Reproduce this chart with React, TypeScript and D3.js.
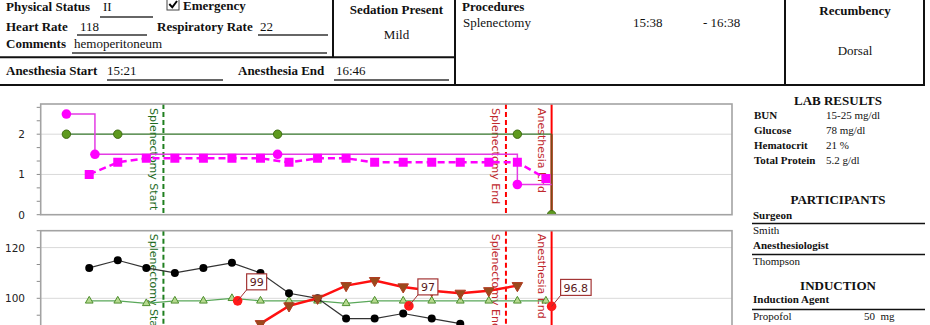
import React from "react";
import * as d3 from "d3";

const parseT = (s: string) => {
  const [h, m, sec] = s.split(":").map(Number);
  return new Date(2020, 0, 1, h, m, sec || 0);
};

// ---------- header form ----------
const physicalStatus = "II";
const heartRate = "118";
const respiratoryRate = "22";
const comments = "hemoperitoneum";
const sedation = "Mild";
const anesthesiaStart = "15:21";
const anesthesiaEnd = "16:46";
const procedureNames = ["Splenectomy"];
const procedureStarts = ["15:38"];
const procedureEnds = ["16:38"];
const recumbency = "Dorsal";

// ---------- right panel ----------
const labNames = ["BUN", "Glucose", "Hematocrit", "Total Protein"];
const labValues = ["15-25 mg/dl", "78 mg/dl", "21 %", "5.2 g/dl"];
const surgeons = ["Smith"];
const anesthesiologists = ["Thompson"];
const inductionAgents = ["Propofol"];
const inductionDoses = ["50  mg"];

// ---------- time axis ----------
const timeDomain = ["15:16:30", "17:17:36"];

// ---------- top chart ----------
const topTicks = [0, 1, 2];
const vaporTimes = ["15:21", "15:26", "15:58", "16:40"];
const vaporValues = [2.5, 1.5, 1.5, 0.75];
const o2Times = ["15:21", "15:30", "15:58", "16:40", "16:46"];
const o2Values = [2, 2, 2, 2, 0];
const etTimes = ["15:25", "15:30", "15:35", "15:40", "15:45", "15:50", "15:55", "16:00", "16:05", "16:10", "16:15", "16:20", "16:25", "16:30", "16:35", "16:40", "16:45"];
const etValues = [1.0, 1.3, 1.4, 1.4, 1.4, 1.4, 1.4, 1.3, 1.4, 1.4, 1.3, 1.3, 1.3, 1.3, 1.3, 1.3, 0.9];

// ---------- bottom chart ----------
const bottomTicks = [60, 80, 100, 120];
const hrTimes = ["15:25", "15:30", "15:35", "15:40", "15:45", "15:50", "15:55", "16:00", "16:05", "16:10", "16:15", "16:20", "16:25", "16:30"];
const hrValues = [112, 115, 112, 110, 112, 114, 110, 102, 100, 92, 92, 94, 92, 90];
const spo2Times = ["15:25", "15:30", "15:35", "15:40", "15:45", "15:50", "15:55", "16:00", "16:05", "16:10", "16:15", "16:20", "16:25", "16:30", "16:35", "16:40", "16:45"];
const spo2Values = [99, 99, 98, 99, 99, 100, 99, 99, 99, 98, 99, 99, 99, 99, 99, 99, 99];
const bpTimes = ["15:55", "16:00", "16:05", "16:10", "16:15", "16:20", "16:25", "16:30", "16:35", "16:40"];
const bpValues = [90, 97, 100, 105, 107, 104.5, 103, 102, 103, 105];
const tempTimes = ["15:51", "16:21", "16:46"];
const tempValues = [99, 97, 96.8];
const tempLabels = ["99", "97", "96.8"];

// ---------- events ----------
const eventNames = ["Splenectomy Start", "Splenectomy End", "Anesthesia End"];
const eventTimes = ["15:38", "16:38", "16:46"];
const eventStyles = [
  { line: "#1f7f1f", text: "#1e6b1e", dash: "5,3" },
  { line: "#ff0000", text: "#c0282d", dash: "5,3" },
  { line: "#ff0000", text: "#c0282d", dash: "" },
];

const W = 930, H = 325;
const X0 = 40.7, X1 = 732;
const TOP_Y0 = 104, TOP_Y1 = 214.7;
const BOT_Y0 = 230.7, BOT_Y1 = 399.7;

const serif = "'Liberation Serif', 'Times New Roman', serif";
const sans = "'DejaVu Sans', Verdana, sans-serif";

function Header() {
  const bold = { fontFamily: serif, fontSize: 13, fontWeight: 700, fill: "#111" } as const;
  const reg = { fontFamily: serif, fontSize: 13, fill: "#111" } as const;
  const ul = { stroke: "#333", strokeWidth: 1.3 };
  const box = { stroke: "#111", strokeWidth: 2, fill: "none" };
  return (
    <g>
      <text x={6} y={10.5} {...bold}>Physical Status</text>
      <text x={103} y={10.5} {...reg}>{physicalStatus}</text>
      <line x1={100} x2={153} y1={17} y2={17} {...ul} />
      <rect x={167} y={-2} width={12} height={12} fill="#fff" stroke="#444" strokeWidth={1} />
      <path d="M169.3,4 L172.3,7.3 L177,1" fill="none" stroke="#000" strokeWidth={2} />
      <text x={183} y={9.8} {...bold}>Emergency</text>

      <text x={6} y={30.5} {...bold}>Heart Rate</text>
      <text x={80} y={30.5} {...reg}>{heartRate}</text>
      <line x1={77} x2={147} y1={35} y2={35} {...ul} />
      <text x={157} y={30.5} {...bold}>Respiratory Rate</text>
      <text x={260} y={30.5} {...reg}>{respiratoryRate}</text>
      <line x1={258} x2={328} y1={35} y2={35} {...ul} />

      <text x={6} y={48} {...bold}>Comments</text>
      <text x={74} y={48} {...reg}>{comments}</text>
      <line x1={72} x2={327} y1={53} y2={53} {...ul} />

      <text x={6} y={75} {...bold}>Anesthesia Start</text>
      <text x={107} y={75} {...reg}>{anesthesiaStart}</text>
      <line x1={107} x2={223} y1={80} y2={80} {...ul} />
      <text x={238} y={75} {...bold}>Anesthesia End</text>
      <text x={336} y={75} {...reg}>{anesthesiaEnd}</text>
      <line x1={334} x2={449} y1={80} y2={80} {...ul} />

      <text x={396.5} y={14} textAnchor="middle" {...bold}>Sedation Present</text>
      <text x={396.5} y={38.5} textAnchor="middle" {...reg}>{sedation}</text>

      <text x={462} y={10.5} {...bold}>Procedures</text>
      {procedureNames.map((p, i) => (
        <g key={p}>
          <text x={463} y={27 + i * 15} {...reg}>{p}</text>
          <text x={633} y={27 + i * 15} {...reg}>{procedureStarts[i]}</text>
          <text x={703} y={27 + i * 15} {...reg}>{"- " + procedureEnds[i]}</text>
        </g>
      ))}

      <text x={855} y={15} textAnchor="middle" {...bold}>Recumbency</text>
      <text x={855} y={55} textAnchor="middle" {...reg}>{recumbency}</text>

      <line x1={0} x2={455} y1={57.3} y2={57.3} {...box} />
      <line x1={333} x2={333} y1={0} y2={57.3} {...box} />
      <line x1={455} x2={455} y1={0} y2={85} {...box} />
      <line x1={785} x2={785} y1={0} y2={85} {...box} />
      <line x1={924} x2={924} y1={0} y2={85} {...box} />
      <line x1={0} x2={925} y1={85} y2={85} {...box} />
    </g>
  );
}

function RightPanel() {
  const h = { fontFamily: serif, fontSize: 13, fontWeight: 700, fill: "#111" } as const;
  const b = { fontFamily: serif, fontSize: 11, fontWeight: 700, fill: "#111" } as const;
  const r = { fontFamily: serif, fontSize: 11, fill: "#111" } as const;
  const sep = { stroke: "#111", strokeWidth: 1.6 };
  return (
    <g>
      <text x={838} y={104.7} textAnchor="middle" {...h}>LAB RESULTS</text>
      {labNames.map((n, i) => (
        <g key={n}>
          <text x={754} y={118.7 + i * 15} {...b}>{n}</text>
          <text x={826} y={118.7 + i * 15} {...r}>{labValues[i]}</text>
        </g>
      ))}
      <text x={838} y={203.5} textAnchor="middle" {...h}>PARTICIPANTS</text>
      <text x={753} y={218.5} {...b}>Surgeon</text>
      <line x1={752} x2={925} y1={223.5} y2={223.5} {...sep} />
      {surgeons.map((s, i) => <text key={s} x={753} y={234 + i * 15} {...r}>{s}</text>)}
      <text x={753} y={249} {...b}>Anesthesiologist</text>
      <line x1={752} x2={925} y1={254.5} y2={254.5} {...sep} />
      {anesthesiologists.map((s, i) => <text key={s} x={753} y={265 + i * 15} {...r}>{s}</text>)}
      <text x={838} y={289.5} textAnchor="middle" {...h}>INDUCTION</text>
      <text x={753} y={302.5} {...b}>Induction Agent</text>
      <line x1={752} x2={925} y1={309.5} y2={309.5} {...sep} />
      {inductionAgents.map((s, i) => (
        <g key={s}>
          <text x={753} y={319.5 + i * 15} {...r}>{s}</text>
          <text x={864} y={319.5 + i * 15} {...r} style={{ whiteSpace: "pre" }}>{inductionDoses[i]}</text>
        </g>
      ))}
    </g>
  );
}

type Pt = { t: Date; v: number };
const zip = (ts: string[], vs: number[]): Pt[] => ts.map((t, i) => ({ t: parseT(t), v: vs[i] }));

function Axis({ y, ticks, minors, y0, y1 }: any) {
  const visible = (t: number) => y(t) >= y0 - 0.5 && y(t) <= Math.min(y1, H) + 0.5;
  return (
    <g>
      {ticks.filter((t: number) => y(t) > y0 + 1 && y(t) < y1 - 1 && y(t) < H).map((t: number) => (
        <line key={"g" + t} x1={X0} x2={X1} y1={y(t)} y2={y(t)} stroke="#d9d9d9" strokeWidth={1} />
      ))}
      {minors.filter(visible).map((t: number) => (
        <line key={"m" + t} x1={X0 - 4} x2={X0} y1={y(t)} y2={y(t)} stroke="#8c8c8c" strokeWidth={1} />
      ))}
      {ticks.filter((t: number) => visible(t) && y(t) + 5 < H).map((t: number) => (
        <text key={"l" + t} x={25} y={y(t) + 4} textAnchor="end" fontFamily={sans} fontSize={10.5} fill="#222">{t}</text>
      ))}
    </g>
  );
}

function Events({ x, y0, y1, dy }: any) {
  return (
    <g>
      {eventNames.map((n, i) => {
        const xx = x(parseT(eventTimes[i]));
        const st = eventStyles[i];
        return (
          <g key={n}>
            <line x1={xx} x2={xx} y1={y0} y2={y1} stroke={st.line} strokeWidth={2} strokeDasharray={st.dash || undefined} />
            <text transform={`translate(${xx - 13.5},${y0 + dy}) rotate(90)`} fontFamily={sans} fontSize={11} fill={st.text}>{n}</text>
          </g>
        );
      })}
    </g>
  );
}

export default function App() {
  const x = d3.scaleTime().domain(timeDomain.map(parseT)).range([X0, X1]);
  const yTop = d3.scaleLinear().domain([0, 2.75]).range([TOP_Y1, TOP_Y0]);
  const yBot = d3.scaleLinear().domain([60, 126.67]).range([BOT_Y1, BOT_Y0]);

  const lineTop = d3.line<Pt>().x((d) => x(d.t)).y((d) => yTop(d.v));
  const stepTop = d3.line<Pt>().x((d) => x(d.t)).y((d) => yTop(d.v)).curve(d3.curveStepAfter);
  const lineBot = d3.line<Pt>().x((d) => x(d.t)).y((d) => yBot(d.v));

  const vapor = zip(vaporTimes, vaporValues);
  const vaporExt = [...vapor, { t: parseT(anesthesiaEnd), v: vapor[vapor.length - 1].v }];
  const o2 = zip(o2Times, o2Values);
  const o2Last = o2[o2.length - 1];
  const o2Prev = o2[o2.length - 2];
  const o2Main = [...o2.slice(0, -1), { t: o2Last.t, v: o2Prev.v }];
  const o2Drop = [{ t: o2Last.t, v: o2Prev.v }, o2Last];
  const et = zip(etTimes, etValues);

  const hr = zip(hrTimes, hrValues);
  const spo2 = zip(spo2Times, spo2Values);
  const bp = zip(bpTimes, bpValues);
  const temp = zip(tempTimes, tempValues);

  const sq = d3.symbol().type(d3.symbolSquare).size(81)()!;
  const triUp = d3.symbol().type(d3.symbolTriangle).size(26)()!;
  const triDown = d3.symbol().type(d3.symbolTriangle).size(48)()!;

  const topMinors = d3.range(0, 2.75, 1 / 3);
  const botMinors = d3.range(60, 126.7, 20 / 3);

  const labelW = (s: string) => s.split("").reduce((a, c) => a + (c === "." ? 3.5 : 7), 0) + 6;

  return (
    <div style={{ position: "absolute", left: 0, top: 0, width: W, height: H, overflow: "hidden", background: "#fff" }}>
      <svg width={W} height={H} style={{ display: "block" }}>
        <defs>
          <clipPath id="clipTop"><rect x={X0} y={TOP_Y0} width={X1 - X0} height={TOP_Y1 - TOP_Y0} /></clipPath>
          <clipPath id="clipBot"><rect x={X0} y={BOT_Y0} width={X1 - X0} height={BOT_Y1 - BOT_Y0} /></clipPath>
        </defs>
        <rect width={W} height={H} fill="#fff" />
        <Header />
        <RightPanel />

        {/* top chart */}
        <Axis y={yTop} ticks={topTicks} minors={topMinors} y0={TOP_Y0} y1={TOP_Y1} />
        <g clipPath="url(#clipTop)">
          <Events x={x} y0={TOP_Y0} y1={TOP_Y1} dy={4} />
          <path d={lineTop(o2Main)!} fill="none" stroke="#3b7b30" strokeWidth={1.3} />
          <path d={lineTop(o2Drop)!} fill="none" stroke="#7a4a14" strokeWidth={2} />
          <path d={stepTop(vaporExt)!} fill="none" stroke="#e43be4" strokeWidth={1.5} />
          <path d={lineTop(et)!} fill="none" stroke="#ff00ff" strokeWidth={2.5} strokeDasharray="7,4" />
          {et.map((d, i) => (
            <path key={i} d={sq} transform={`translate(${x(d.t)},${yTop(d.v)})`} fill="#ff00ff" />
          ))}
          {vapor.map((d, i) => (
            <circle key={i} cx={x(d.t)} cy={yTop(d.v)} r={4.8} fill="#ff00ff" />
          ))}
          {o2.map((d, i) => (
            <circle key={i} cx={x(d.t)} cy={yTop(d.v)} r={4.2} fill="#5e9a1e" stroke="#3f6d12" strokeWidth={1} />
          ))}
        </g>
        <rect x={X0} y={TOP_Y0} width={X1 - X0} height={TOP_Y1 - TOP_Y0} fill="none" stroke="#a3a3a3" strokeWidth={1.6} />

        {/* bottom chart */}
        <Axis y={yBot} ticks={bottomTicks} minors={botMinors} y0={BOT_Y0} y1={BOT_Y1} />
        <g clipPath="url(#clipBot)">
          <Events x={x} y0={BOT_Y0} y1={BOT_Y1} dy={3} />
          <path d={lineBot(spo2)!} fill="none" stroke="#5aa85a" strokeWidth={1.3} />
          {spo2.map((d, i) => (
            <path key={i} d={triUp} transform={`translate(${x(d.t)},${yBot(d.v)})`} fill="#b5d98f" stroke="#4e8f2e" strokeWidth={1} />
          ))}
          <path d={lineBot(hr)!} fill="none" stroke="#333" strokeWidth={1.2} />
          {hr.map((d, i) => (
            <circle key={i} cx={x(d.t)} cy={yBot(d.v)} r={4} fill="#000" />
          ))}
          <path d={lineBot(bp)!} fill="none" stroke="#ff1010" strokeWidth={2.5} />
          {bp.map((d, i) => (
            <path key={i} d={triDown} transform={`translate(${x(d.t)},${yBot(d.v)}) rotate(180)`} fill="#9a4a1c" stroke="#b03a20" strokeWidth={1} />
          ))}
          {temp.map((d, i) => (
            <circle key={i} cx={x(d.t)} cy={yBot(d.v)} r={4.8} fill="#ff1a1a" />
          ))}
        </g>
        {temp.map((d, i) => {
          const cx = x(d.t), cy = yBot(d.v);
          const bw = labelW(tempLabels[i]);
          const bx = cx + 9, by = cy - 27;
          return (
            <g key={"lab" + i}>
              <line x1={cx} y1={cy} x2={bx} y2={by + 16} stroke="#a33030" strokeWidth={1} />
              <rect x={bx} y={by} width={bw} height={16} fill="#fff" stroke="#a33535" strokeWidth={1.2} />
              <text x={bx + bw / 2} y={by + 12.3} textAnchor="middle" fontFamily={sans} fontSize={11} fill="#5a1a1a">{tempLabels[i]}</text>
            </g>
          );
        })}
        <rect x={X0} y={BOT_Y0} width={X1 - X0} height={BOT_Y1 - BOT_Y0} fill="none" stroke="#a3a3a3" strokeWidth={1.6} />
      </svg>
    </div>
  );
}
